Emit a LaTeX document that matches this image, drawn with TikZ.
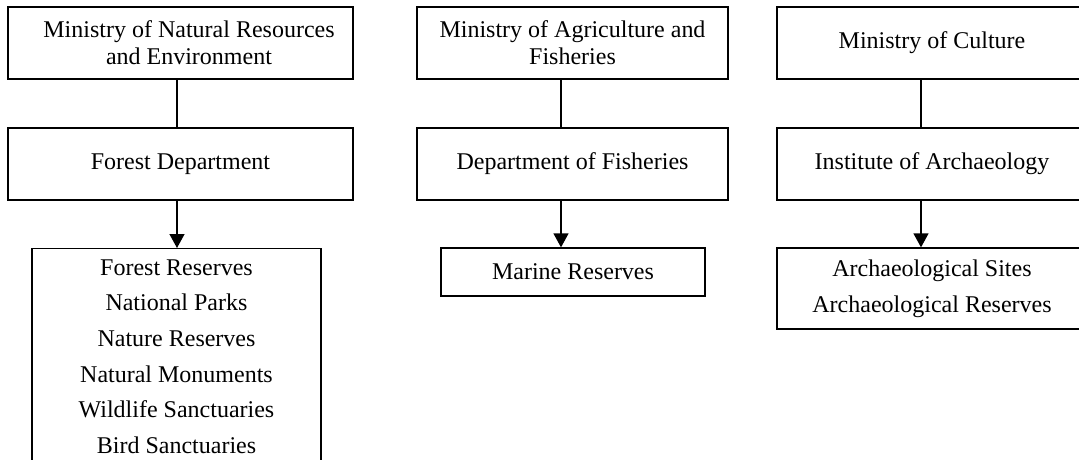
\documentclass[tikz,border=0pt]{standalone}
\usepackage{fontspec}
\setmainfont{Liberation Serif}
\usetikzlibrary{arrows.meta}
\begin{document}
\begin{tikzpicture}[x=1pt,y=-1pt,
  box/.style={draw,line width=1.3pt,rectangle,inner sep=0pt,align=center,
    font=\fontsize{24}{27}\selectfont},
  listbox/.style={draw,line width=1.3pt,rectangle,inner xsep=0pt,inner ysep=11pt,align=center,
    font=\fontsize{24}{35.6}\selectfont},
  link/.style={line width=1.3pt},
  arr/.style={line width=1.3pt,-{Triangle[width=15pt,length=14pt]}}]
\useasboundingbox (0,0) rectangle (1079,460);
\clip (0,0) rectangle (1079,460);
% left column
\node[box,minimum width=345pt,minimum height=72pt] (a1) at (180.5,43)
  {\hspace*{17pt}Ministry of Natural Resources\\\hspace*{17pt}and Environment};
\node[box,minimum width=345pt,minimum height=72pt] (a2) at (180.5,164) {Forest Department};
\node[listbox,minimum width=289pt,anchor=north] (a3) at (176.5,248)
  {Forest Reserves\\National Parks\\Nature Reserves\\Natural Monuments\\Wildlife Sanctuaries\\Bird Sanctuaries\\\mbox{}\\\mbox{}};
% middle column
\node[box,minimum width=311pt,minimum height=72pt] (b1) at (572.5,43)
  {Ministry of Agriculture and\\Fisheries};
\node[box,minimum width=311pt,minimum height=72pt] (b2) at (572.5,164) {Department of Fisheries};
\node[box,minimum width=264pt,minimum height=48pt] (b3) at (573,272) {Marine Reserves};
% right column
\node[box,minimum width=310pt,minimum height=72pt] (c1) at (932,43) {Ministry of Culture};
\node[box,minimum width=310pt,minimum height=72pt] (c2) at (932,164) {Institute of Archaeology};
\node[box,minimum width=310pt,minimum height=81pt,font=\fontsize{24}{36}\selectfont] (c3) at (932,288.5)
  {Archaeological Sites\\Archaeological Reserves};
% connector columns
\coordinate (xl) at (177,0);
\coordinate (xm) at (561,0);
\coordinate (xr) at (921,0);
\draw[link] (a1.south -| xl) -- (a2.north -| xl);
\draw[arr] (a2.south -| xl) -- (a3.north -| xl);
\draw[link] (b1.south -| xm) -- (b2.north -| xm);
\draw[arr] (b2.south -| xm) -- (b3.north -| xm);
\draw[link] (c1.south -| xr) -- (c2.north -| xr);
\draw[arr] (c2.south -| xr) -- (c3.north -| xr);
\end{tikzpicture}
\end{document}
